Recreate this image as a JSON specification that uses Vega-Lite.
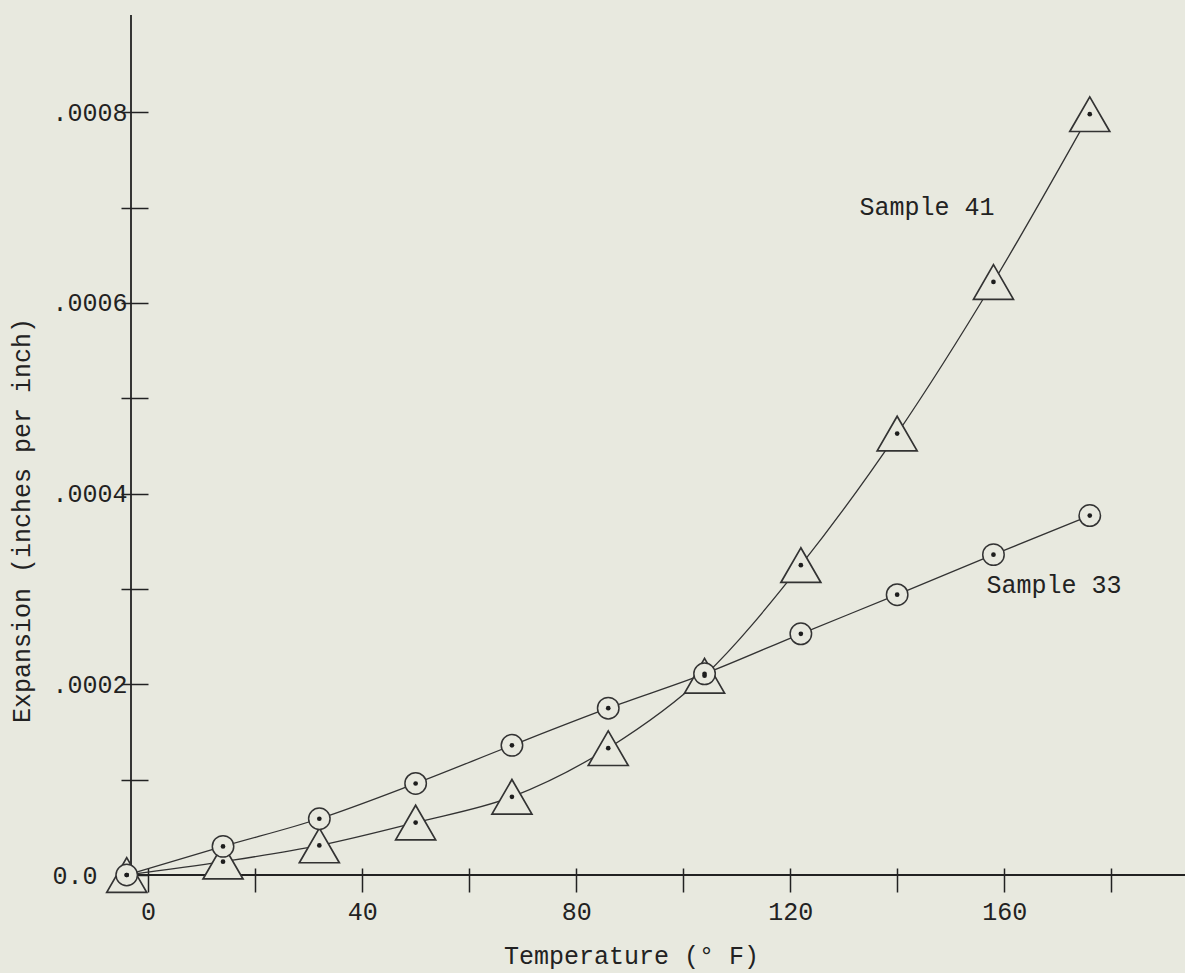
{
  "$schema": "https://vega.github.io/schema/vega-lite/v6.json",
  "width": 1054,
  "height": 860,
  "autosize": {"type": "none"},
  "padding": {"left": 131, "top": 15, "right": 0, "bottom": 98},
  "background": "#e8e9df",
  "config": {
    "view": {"stroke": null},
    "font": "Liberation Mono",
    "axis": {"labelFont": "Liberation Mono", "titleFont": "Liberation Mono", "labelColor": "#222", "titleColor": "#222", "grid": false, "titleFontWeight": "normal"}
  },
  "datasets": {
    "pts": [
      {"sample": "Sample 33", "temp": -4, "expansion": 0.0},
      {"sample": "Sample 33", "temp": 14, "expansion": 0.000030},
      {"sample": "Sample 33", "temp": 32, "expansion": 0.000059},
      {"sample": "Sample 33", "temp": 50, "expansion": 0.000096},
      {"sample": "Sample 33", "temp": 68, "expansion": 0.000136},
      {"sample": "Sample 33", "temp": 86, "expansion": 0.000175},
      {"sample": "Sample 33", "temp": 104, "expansion": 0.000211},
      {"sample": "Sample 33", "temp": 122, "expansion": 0.000253},
      {"sample": "Sample 33", "temp": 140, "expansion": 0.000294},
      {"sample": "Sample 33", "temp": 158, "expansion": 0.000336},
      {"sample": "Sample 33", "temp": 176, "expansion": 0.000377},
      {"sample": "Sample 41", "temp": -4, "expansion": 0.0},
      {"sample": "Sample 41", "temp": 14, "expansion": 0.000014},
      {"sample": "Sample 41", "temp": 32, "expansion": 0.000031},
      {"sample": "Sample 41", "temp": 50, "expansion": 0.000055},
      {"sample": "Sample 41", "temp": 68, "expansion": 0.000082},
      {"sample": "Sample 41", "temp": 86, "expansion": 0.000133},
      {"sample": "Sample 41", "temp": 104, "expansion": 0.000209},
      {"sample": "Sample 41", "temp": 122, "expansion": 0.000325},
      {"sample": "Sample 41", "temp": 140, "expansion": 0.000463},
      {"sample": "Sample 41", "temp": 158, "expansion": 0.000622},
      {"sample": "Sample 41", "temp": 176, "expansion": 0.000798}
    ],
    "labels": [
      {"label": "Sample 41", "temp": 145.6, "expansion": 0.000701},
      {"label": "Sample 33", "temp": 169.3, "expansion": 0.000304}
    ]
  },
  "layer": [
    {
      "data": {"values": [{}]},
      "mark": {"type": "rule", "color": "#222", "strokeWidth": 1.8},
      "encoding": {"y": {"datum": 0, "type": "quantitative"}}
    },
    {
      "data": {"values": [{}]},
      "mark": {"type": "rule", "color": "#222", "strokeWidth": 1.8},
      "encoding": {"x": {"datum": -3.2, "type": "quantitative"}}
    },
    {
      "data": {"name": "pts"},
      "mark": {"type": "line", "interpolate": "monotone", "color": "#333", "strokeWidth": 1.3},
      "encoding": {
        "x": {
          "field": "temp", "type": "quantitative",
          "scale": {"domain": [-3.2, 193.8], "nice": false, "zero": false},
          "axis": {
            "values": [0, 20, 40, 60, 80, 100, 120, 140, 160, 180],
            "labelExpr": "datum.value % 40 == 0 ? datum.label : ''",
            "domain": false, "offset": -7, "tickSize": 24, "tickColor": "#222", "tickWidth": 1.5,
            "labelPadding": 7, "labelFontSize": 25, "labelBaseline": "top",
            "title": "Temperature (° F)", "titleFontSize": 25,
            "titleX": 500, "titleY": 87, "titleAnchor": "middle", "titleAlign": "center", "titleBaseline": "middle"
          }
        },
        "y": {
          "field": "expansion", "type": "quantitative",
          "scale": {"domain": [0, 0.000902], "nice": false},
          "axis": {
            "values": [0, 0.0001, 0.0002, 0.0003, 0.0004, 0.0005, 0.0006, 0.0007, 0.0008],
            "labelExpr": "datum.value == 0 ? '0.0' : (round(datum.value * 10000) % 2 == 0 ? replace(format(datum.value, '.4f'), '0.', '.') : '')",
            "domain": false, "offset": 10, "tickSize": -27, "tickColor": "#222", "tickWidth": 1.5,
            "labelAlign": "left", "labelPadding": 96, "labelFontSize": 25, "labelBaseline": "middle",
            "title": "Expansion (inches per inch)", "titleFontSize": 25,
            "titleX": -100, "titleY": 505, "titleAngle": -90, "titleAlign": "center", "titleBaseline": "middle"
          }
        },
        "detail": {"field": "sample"}
      }
    },
    {
      "data": {"name": "pts"},
      "transform": [{"filter": "datum.sample == 'Sample 41'"}],
      "mark": {"type": "point", "shape": "triangle-up", "size": 1600, "filled": false, "fill": "#e8e9df", "fillOpacity": 1, "stroke": "#333", "strokeWidth": 1.7, "opacity": 1},
      "encoding": {
        "x": {"field": "temp", "type": "quantitative"},
        "y": {"field": "expansion", "type": "quantitative"}
      }
    },
    {
      "data": {"name": "pts"},
      "transform": [{"filter": "datum.sample == 'Sample 33'"}],
      "mark": {"type": "point", "shape": "circle", "size": 460, "filled": false, "fill": "#e8e9df", "fillOpacity": 1, "stroke": "#333", "strokeWidth": 1.5, "opacity": 1},
      "encoding": {
        "x": {"field": "temp", "type": "quantitative"},
        "y": {"field": "expansion", "type": "quantitative"}
      }
    },
    {
      "data": {"name": "pts"},
      "mark": {"type": "point", "shape": "circle", "size": 22, "filled": true, "color": "#1e1e1e", "opacity": 1},
      "encoding": {
        "x": {"field": "temp", "type": "quantitative"},
        "y": {"field": "expansion", "type": "quantitative"}
      }
    },
    {
      "data": {"name": "labels"},
      "mark": {"type": "text", "font": "Liberation Mono", "fontSize": 25, "color": "#222", "align": "center", "baseline": "middle"},
      "encoding": {
        "x": {"field": "temp", "type": "quantitative"},
        "y": {"field": "expansion", "type": "quantitative"},
        "text": {"field": "label"}
      }
    }
  ]
}
